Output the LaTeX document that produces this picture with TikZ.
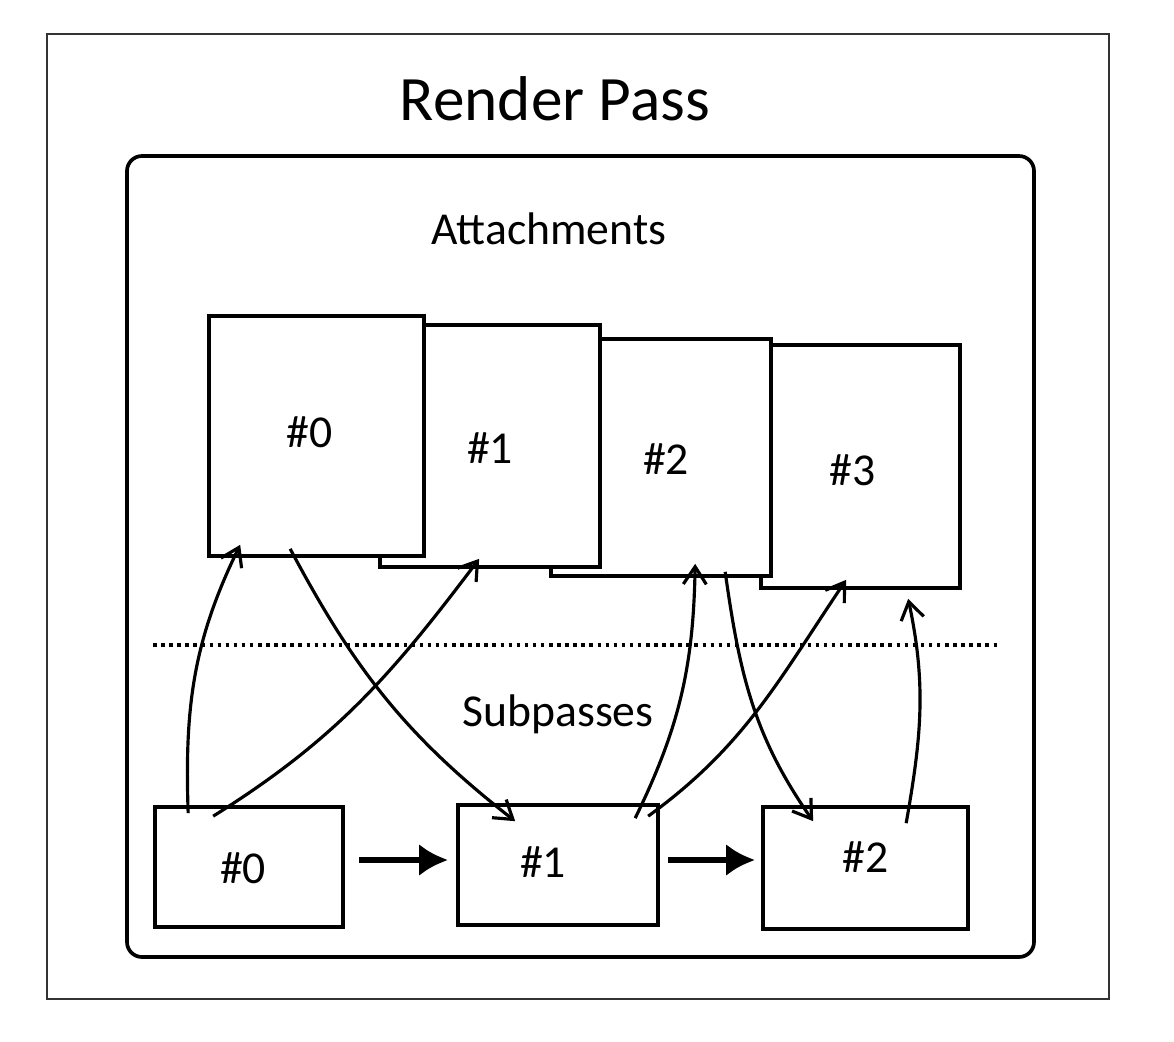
\documentclass[tikz,border=0pt]{standalone}
\usepackage{fontspec}
\setmainfont{Carlito}
\usepackage{tikz}
\usetikzlibrary{positioning,arrows.meta,calc}
\tikzset{attbox/.style={draw, fill=white, line width=2.1pt, inner sep=0pt}}
\tikzset{passbox/.style={attbox}}
\tikzset{boxtext/.style={inner sep=0pt, font=\fontsize{26}{30}\selectfont}}
\tikzset{dep arrow/.style={-{Straight Barb[length=3.5mm,width=4.6mm]}, line width=1.8pt}}
\tikzset{next arrow/.style={-{Latex[length=5.8mm,width=6.4mm]}, line width=3.2pt}}
\tikzset{caption/.style={anchor=base, inner sep=0pt, font=\fontsize{26}{30}\selectfont}}

\begin{document}
\begin{tikzpicture}[x=0.02cm, y=-0.02cm]
	\useasboundingbox (0,0) rectangle (1174,1042);
	\draw [line width=1.3pt, black!80] (47,34) rectangle (1109,999);
	\draw [line width=2.1pt, rounded corners=0.3cm] (127,156) rectangle (1034,957);
	\node [caption, font=\fontsize{36}{43}\selectfont] (title) at (555,120) {Render Pass};
	\node [caption] (attlabel) at (549,244) {Attachments};
	\node [caption] (passlabel) at (558,726) {Subpasses};
	\draw [line width=2pt, dash pattern=on 2pt off 2.6pt] (153,645) -- (1000,645);
	% attachments, back to front
	\node [attbox, minimum width=3.98cm, minimum height=4.86cm] (att3) at (860.5,466.5) {};
	\node [boxtext] (att3txt) at ($(att3)+(-8,4)$) {\#3};
	\node [attbox, minimum width=4.4cm, minimum height=4.74cm] (att2) at (661,457.5) {};
	\node [boxtext] (att2txt) at ($(att2)+(5,2)$) {\#2};
	\node [attbox, minimum width=4.4cm, minimum height=4.84cm] (att1) at (490,446) {};
	\node [boxtext] (att1txt) at ($(att1)+(0,2)$) {\#1};
	\node [attbox, minimum width=4.3cm, minimum height=4.8cm] (att0) at (316.5,436) {};
	\node [boxtext] (att0txt) at ($(att0)+(-7,-4)$) {\#0};
	% subpasses
	\node [passbox, minimum width=3.76cm, minimum height=2.4cm] (sp0) at (249,867) {};
	\node [boxtext] (sp0txt) at ($(sp0)+(-6,1)$) {\#0};
	\node [passbox, minimum width=4cm, minimum height=2.4cm] (sp1) at (558,865) {};
	\node [boxtext] (sp1txt) at ($(sp1)+(-15,-3)$) {\#1};
	\node [passbox, minimum width=4.1cm, minimum height=2.44cm] (sp2) at (865.5,868) {};
	\node [boxtext] (sp2txt) at ($(sp2)+(0,-11)$) {\#2};
	\draw [next arrow] ($(sp0.east)+(14,-7)$) -- ($(sp1.west)+(-8,-5)$);
	\draw [next arrow] ($(sp1.east)+(8,-5)$) -- ($(sp2.west)+(-6,-8)$);
	% dependencies
	\draw [dep arrow] ($(sp0.north west)+(35,8)$) to[out=92, in=-116] ($(att0.south west)+(33,-13)$);
	\draw [dep arrow] ($(sp0.north west)+(60,11)$) to[out=32, in=-127] ($(att1.south west)+(101,-10)$);
	\draw [dep arrow] ($(att0.south west)+(83,-9)$) to[out=-62, in=142] ($(sp1.north west)+(59,18)$);
	\draw [dep arrow] ($(sp1.north west)+(179,15)$) to[out=64, in=-91] ($(att2.south west)+(146,-14)$);
	\draw [dep arrow] ($(sp1.north west)+(192,13)$) to[out=36, in=-124] ($(att3.south west)+(87,-10)$);
	\draw [dep arrow] ($(att2.south west)+(176,-6)$) to[out=-82, in=125] ($(sp2.north west)+(52,16)$);
	\draw [dep arrow] ($(sp2.north west)+(145,18)$) to[out=80, in=-78] ($(att3.south west)+(149,9)$);
\end{tikzpicture}
\end{document}
